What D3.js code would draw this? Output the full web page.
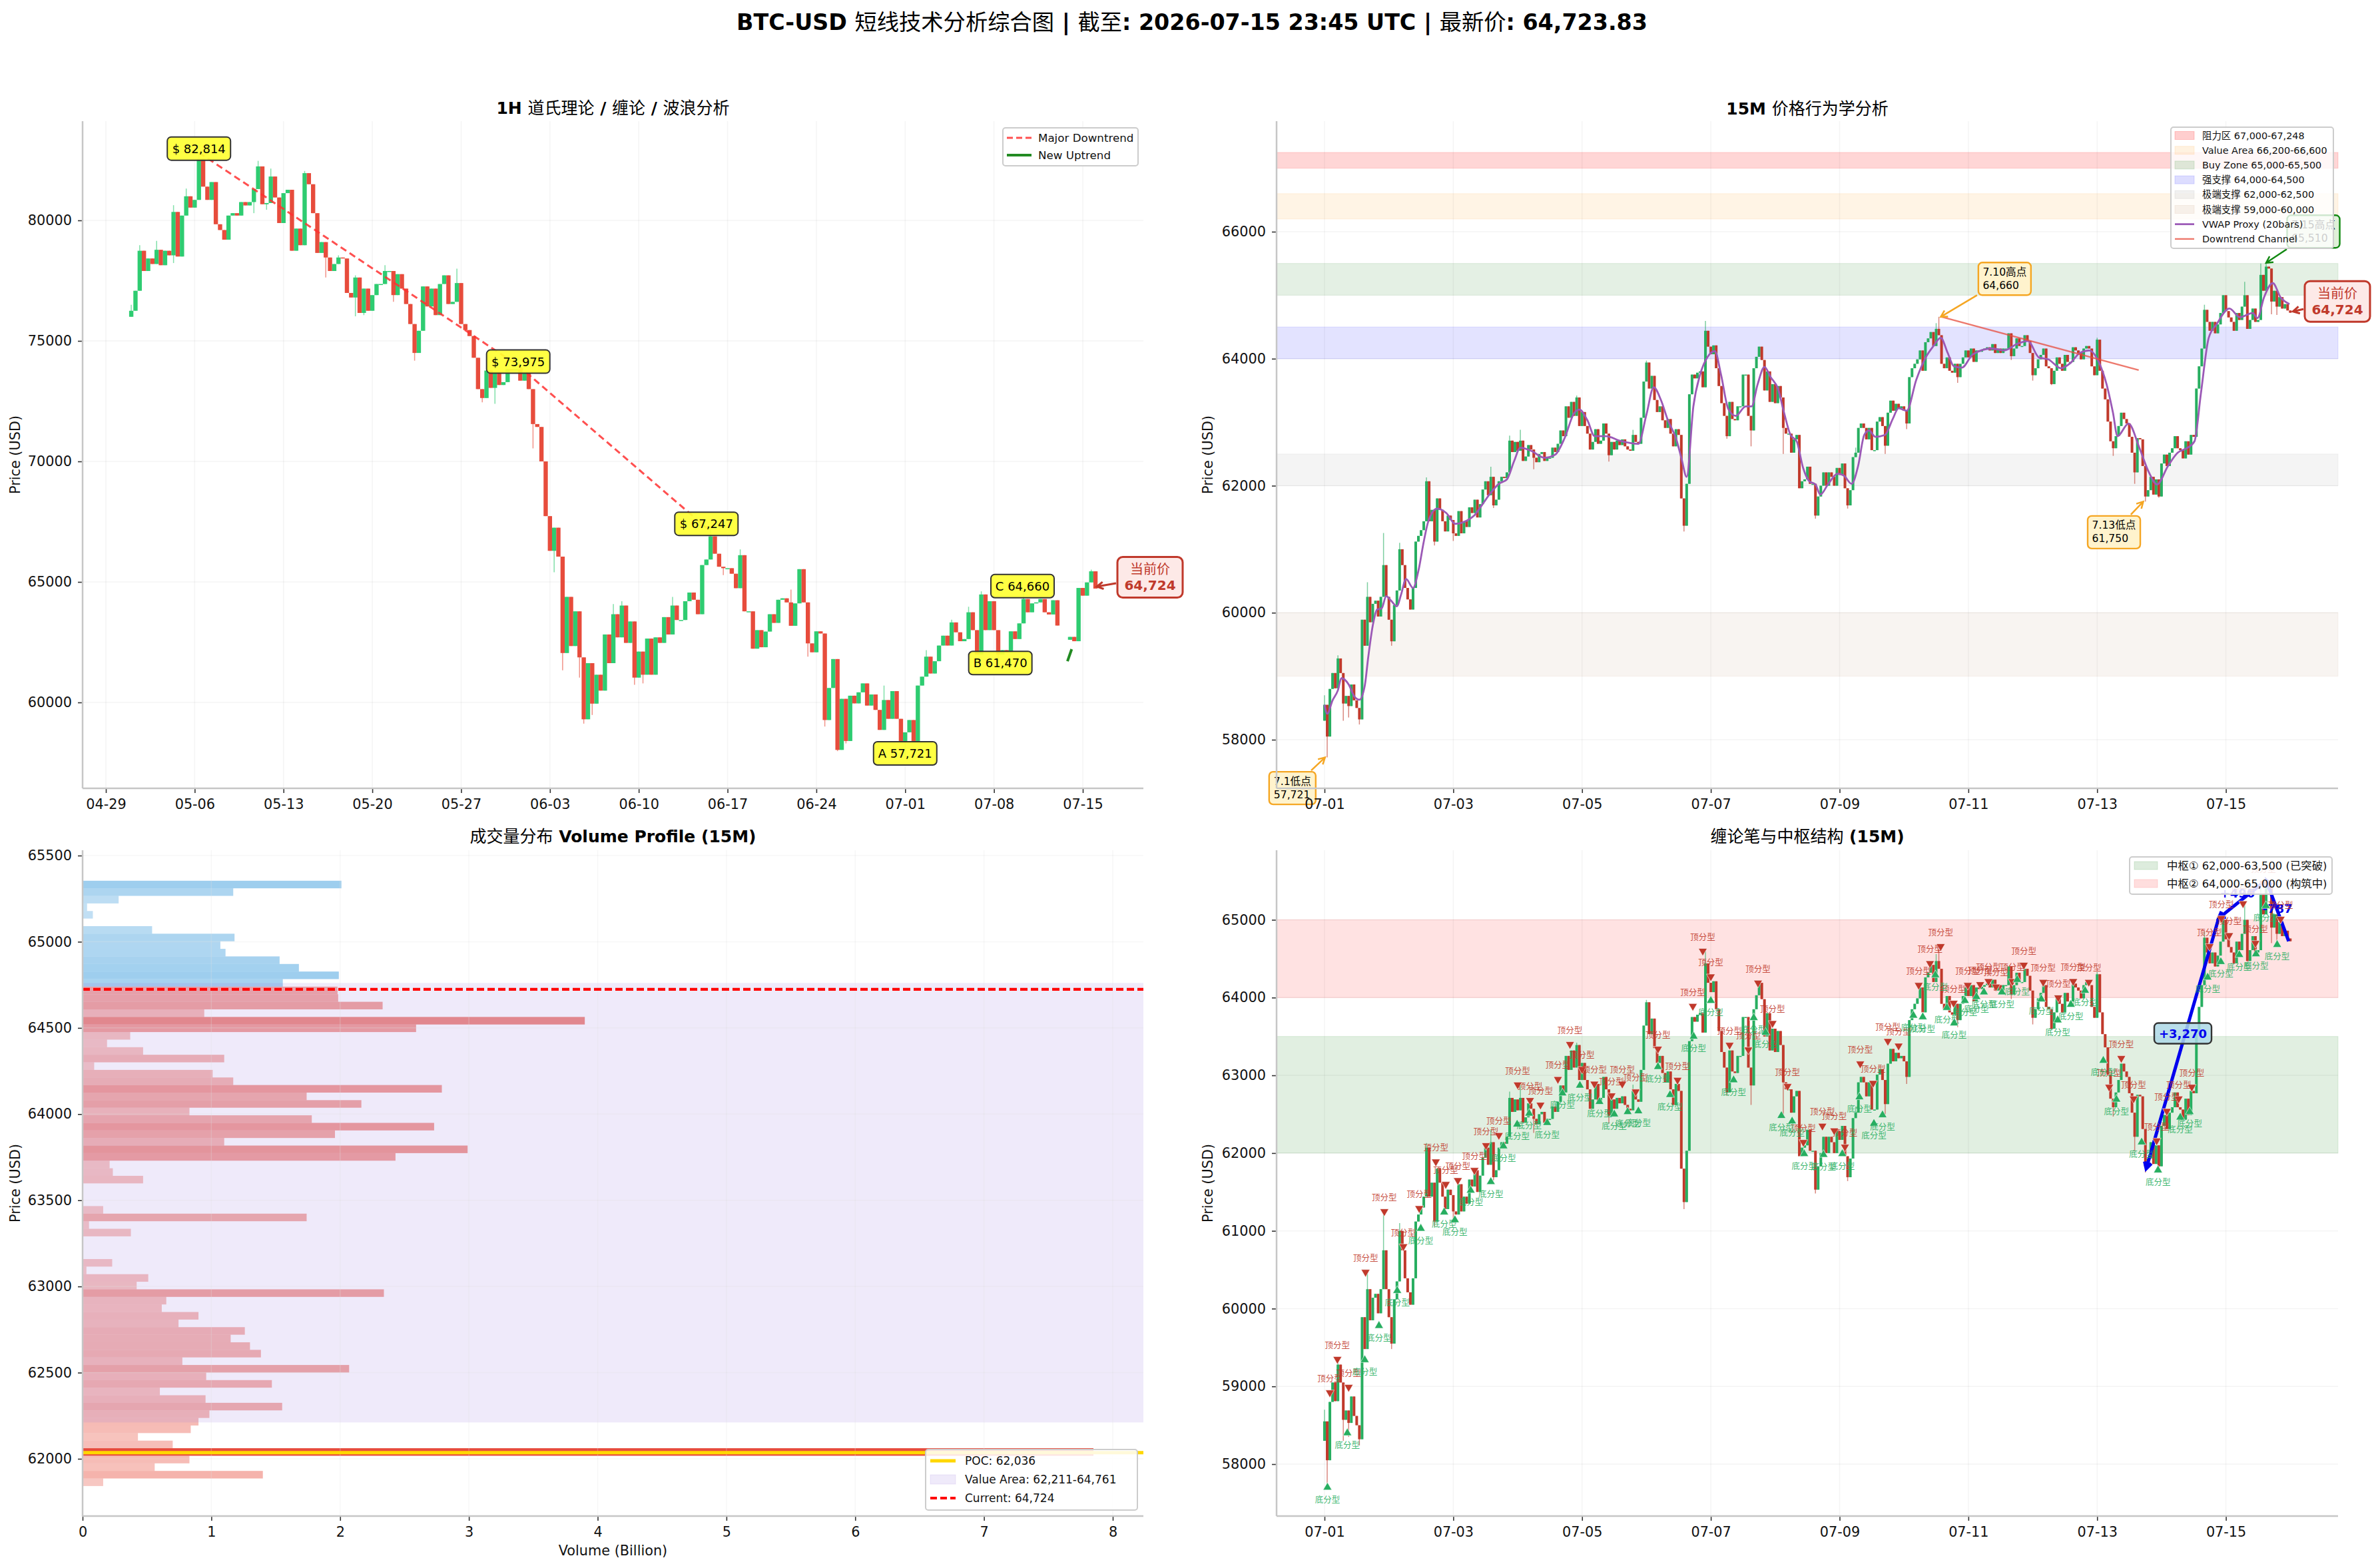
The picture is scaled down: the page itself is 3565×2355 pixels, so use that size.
<!DOCTYPE html>
<html>
<head>
<meta charset="utf-8">
<script src="https://cdn.jsdelivr.net/npm/d3@7/dist/d3.min.js"></script>
<style>
  html, body { margin: 0; padding: 0; background: #fff; }
  svg { display: block; font-family: "DejaVu Sans", "Noto Sans CJK SC", sans-serif; }
</style>
</head>
<body>
<svg id="chart" width="3565" height="2355" viewBox="0 0 3565 2355"></svg>
<script>
// ---------- 1H series: one close per 8 hours from 05-01 00:00 (null = no data) ----------
const closes1h = [
  76250,77080,78740,77900,78420,78190,78780,78140,78740,78550,
  80350,78500,80200,81000,80530,80850,82560,81400,80850,81590,
  79840,79600,79200,80200,80300,80200,80760,80620,80760,81300,
  82240,80670,80720,81820,80950,79890,81130,81270,78740,79660,
  78970,81960,81500,80300,78650,79100,78460,77900,78190,78460,
  78420,76990,76800,77630,76160,77170,76250,76900,77360,77360,
  77900,77900,76900,77770,77170,76530,75700,74500,75420,77260,
  76430,77170,76070,77360,77720,76530,76620,77400,75700,75450,
  75200,74300,73000,72630,73770,73050,73700,73170,73290,73830,
  73770,73830,73350,73650,73000,71550,71430,70000,67730,66290,
  67250,66050,62050,64380,62340,63780,61870,59300,61630,59950,
  61150,60490,62820,61630,63660,62700,64020,62470,63360,61030,
  62110,61150,62650,61150,62700,62470,63540,62820,64020,63420,
  63420,64200,64560,64260,63660,65700,65930,66890,66170,65630,
  65570,65570,65340,64740,66110,63780,63780,62230,63000,62290,
  62940,63660,63300,64260,64320,64150,63180,64110,65530,64150,
  62450,62080,62950,62860,59270,60600,61800,58030,60150,58400,
  60280,59960,60420,60790,59870,60330,59690,58860,60100,59320,
  60470,59320,58400,58760,59270,58400,60700,61070,61900,61200,
  61710,62360,62770,62360,63320,62910,62540,62630,63740,63000,
  61990,64480,63000,64200,63000,61990,62170,62080,62950,62630,
  63280,64290,63740,64110,64150,64290,63740,63650,64240,63190,
  null,null,62720,62540,64750,64430,64980,65440,64724
];
// visible wicks: [bar index, low, high]
const wicks1h = [
  [0,null,76500],[2,null,78970],[6,null,79150],[10,78230,80630],[13,null,81320],[16,null,82814],
  [29,80300,null],[30,null,82470],[32,80440,null],[33,null,82150],[41,null,82050],[46,77630,null],
  [49,null,78550],[53,76020,77720],[55,76070,null],[60,null,78140],[62,76620,null],[67,74180,null],
  [77,null,78000],[83,72450,null],[86,72390,null],[95,70540,null],[100,65400,null],[102,61330,null],
  [106,61030,null],[107,59120,null],[109,59480,null],[114,null,64080],[116,null,64200],[119,60730,null],
  [121,60790,null],[128,null,64380],[137,null,67247],[140,65280,null],[144,null,66350],[156,null,64680],
  [160,61900,null],[164,59000,null],[167,57980,null],[169,58300,null],[178,null,60700],[183,57721,null],
  [188,null,62170],[194,null,63430],[198,null,63970],[201,null,64610],[205,61470,null],[211,null,64660],
  [227,null,65510]
];
const closes1hFirstOpen = 76000;
const tickDays1h = ['04-29','05-06','05-13','05-20','05-27','06-03','06-10','06-17','06-24','07-01','07-08','07-15'];
const yTicks1h = [60000,65000,70000,75000,80000];
// swing points of the major downtrend with their labels
const swingDates = ['05-06T08','05-31T12','06-15T08'];
const swingValues = [82814,73975,67247];
const abcNames = ['A','B','C'];
const abcDates = ['07-01T00','07-08T12','07-10T06'];
const abcValues = [57721,61470,64660];
const uptrendTimes = ['07-13T19','07-14T03'];
const uptrendPrices = [61710,62210];
const lastPrice = 64724;

// ---------- 15M series: one close per hour from 07-01 00:00 ----------
const closes15m = [
  58550,58050,58800,59050,58810,59280,59050,58570,58690,58530,
  58870,58620,58500,58320,59890,59480,60250,59850,60140,60190,
  59940,60250,60750,60250,59890,59550,60120,60350,61000,60750,
  60390,60210,60050,60390,61120,61210,61300,61440,62070,61440,
  61620,61120,61800,61620,61440,61280,61530,61460,61250,61210,
  61600,61250,61440,61350,61660,61570,61780,61500,61710,61940,
  62070,61850,62140,61690,61780,62070,62140,62120,62210,62710,
  62530,62690,62550,62710,62390,62460,62640,62570,62440,62370,
  62500,62530,62390,62440,62440,62600,62530,62660,62870,62780,
  63250,63070,63320,63100,63390,62940,63160,62940,62820,62570,
  62690,62890,62660,62710,62980,62820,62480,62690,62570,62710,
  62640,62730,62620,62570,62550,62800,62690,62660,63070,63640,
  63940,63530,63730,63350,63160,63250,63030,62910,63050,62820,
  62620,62890,62800,61800,61370,62030,63440,63750,63690,63780,
  63800,63550,64440,64190,64070,64210,63850,63570,63300,63100,
  62780,63320,63050,63030,63250,63250,63750,63750,63100,62870,
  63850,64030,64190,63980,63500,63800,63320,63600,63300,63570,
  63390,62910,62820,62820,62520,62730,62800,61960,62070,62100,
  62300,62030,62030,61530,61830,62000,62210,62000,62210,62140,
  62000,62280,62170,62350,61960,61690,61930,62450,62520,62910,
  62980,62910,62730,62910,62560,62560,63010,63080,62940,62630,
  63150,63340,63180,63290,63220,63250,63180,62980,63710,63850,
  63920,63990,64130,63810,64260,64320,64420,64200,64470,64370,
  63920,63850,64020,63810,63780,63920,63710,63920,64020,64130,
  64020,64160,63950,64130,64110,64140,64160,64180,64130,64230,
  64090,64160,64090,64160,64160,64400,64040,64160,64320,64200,
  64200,64370,64280,64090,63740,63850,63990,64060,64160,63880,
  63850,63600,63810,64020,63920,63810,64060,63950,63950,64180,
  64130,64090,63990,64160,64200,64160,63880,63740,64300,63810,
  63530,63360,63010,62700,62590,62780,62940,63150,63050,62980,
  62770,62520,62210,62750,62730,62310,61830,61930,62140,61860,
  62100,61830,62350,62490,62310,62520,62590,62780,62590,62560,
  62430,62700,62490,62800,62770,63530,63880,64160,64770,64580,
  64440,64580,64400,64540,64720,65000,64750,64650,64580,64440,
  64720,64610,64820,65000,64470,64610,64790,64580,64610,65320,
  65070,65450,65420,64900,65070,64820,64970,64790,64860,64760,
  64724
];
const closes15mFirstOpen = 58300;
const wicks15m = [
  [0,null,58700],[1,57721,null],[5,null,59330],[7,58300,null],[9,58350,null],[13,58240,null],[16,null,60480],
  [22,null,61255],[25,59480,null],[28,null,61100],[38,null,62130],[41,61060,null],[48,61130,null],
  [62,null,62300],[63,61650,null],[69,null,62790],[73,null,62880],[78,62260,null],[94,null,63420],
  [106,62380,null],[115,null,62880],[120,null,63970],[134,61280,null],[142,null,64595],[150,62740,null],
  [159,62620,null],[171,62500,null],[183,61480,null],[195,61640,null],[198,null,62600],[209,62500,null],
  [217,62890,null],[228,null,64560],[229,null,64660],[236,63620,null],[256,63980,null],[264,63655,null],
  [271,63585,null],[288,null,64330],[294,62470,null],[302,62030,null],[306,61750,null],[311,61810,null],
  [328,null,64850],[343,null,65210],[349,null,65500],[351,null,65510],[353,64700,null],[355,64690,null]
];
const tickDays15m = ['07-01','07-03','07-05','07-07','07-09','07-11','07-13','07-15'];
const yTicks15mPrice = [58000,60000,62000,64000,66000];
const yTicks15mPen = [58000,59000,60000,61000,62000,63000,64000,65000];

// price zones of the 15M price-action panel
const zoneNames = ['阻力区 67,000-67,248','Value Area 66,200-66,600','Buy Zone 65,000-65,500','强支撑 64,000-64,500','极端支撑 62,000-62,500','极端支撑 59,000-60,000'];
const zoneLows = [67000,66200,65000,64000,62000,59000];
const zoneHighs = [67248,66600,65500,64500,62500,60000];
const zoneColors = ['#ff0000','#ff9800','#2e8b2e','#0000ff','#808080','#8b4513'];
const zoneOpacity = [0.16,0.1,0.13,0.11,0.09,0.06];

// rolling VWAP proxy as read: hours since 07-01 00:00, and price
const vwapHours = [0,1,3,5,6.3,9,11,13,15,16.3,18,19.6,21.3,23,24.6,27,28.5,30.4,33,35,37,38.7,42,45.4,48.7,53,55.8,58.6,62,65,68,70.7,73,77,82,86,89.5,93,95,98,100.7,105,110,117,120,122.7,125.4,128,131,133,135,137.5,140,142.8,145.5,147.8,150.5,153.3,157,159.2,161.4,164,166.3,169,171.3,173.7,176,178.4,180.7,183,184.8,187.8,191.3,193.6,196.5,198.9,201.2,203,205.3,208.9,211.8,214,217,220.6,224.1,227,229.7,232.3,234.6,237.6,241.7,248.7,253.4,258,262.2,266.3,269.8,274.5,278,281.5,285,288.6,291.5,293.9,295.6,299.7,303.8,307.3,310.3,314.4,318,321.4,324.3,326.7,329.6,332.5,337.3,341.2,346,347.8,350.2,353.5,356.4,359.7];
const vwapPrices = [58550,58410,58620,58780,58970,58870,58690,58630,58850,59300,59800,60050,60070,60260,60200,60100,60280,60530,60390,60660,61120,61440,61640,61570,61400,61450,61530,61690,61890,62030,62100,62390,62600,62550,62440,62490,62750,63140,63200,63030,62780,62780,62710,62660,63120,63550,63350,63030,62750,62440,62140,63250,63750,64030,64120,63750,63210,63100,63250,63250,63590,63870,63710,63530,63150,62800,62700,62280,62070,62020,61860,62030,62190,62160,62030,62310,62800,62870,62770,62800,63050,63220,63180,63670,64020,64200,64330,64090,63880,63860,64070,64160,64130,64230,64280,64020,63990,63850,63930,64090,64130,63950,63600,63150,62780,62980,62590,62210,62020,62310,62520,62590,62700,63460,64330,64540,64790,64655,64720,64640,64965,65190,64965,64860];

// downtrend channel: hours since 07-01 00:00, and price
const channelHours = [230,303.5];
const channelPrices = [64660,63820];

// fractal tops and bottoms: hours since 07-01 00:00, and marker price
const topHours = [2,4.8,9,15.3,22.3,29.4,35.3,41.5,45.2,49.7,55.9,60.2,65,72,76.6,80.5,87,91.5,96,100.6,107,111,116,124.3,131.6,137.3,141,144,151,158,161.6,167,172.6,178.5,185.6,190,194,199.7,204.5,210,214,221.5,225.7,229.7,234.5,239.8,244.4,247.5,250.3,256.4,260.7,267.9,273.5,279.1,284.9,292.5,297,301.6,310.2,314,318.4,323.3,329.9,334.3,337.2,342.4,347,350,356.4];
const topPrices = [58920,59350,58990,60470,61250,60800,61290,61890,61600,61650,61780,62100,62230,62880,62680,62620,62950,63400,63080,62890,62740,62890,62790,63340,62940,63890,64600,64270,63390,63330,64190,63670,62860,62140,62350,62290,62080,63150,62900,63440,63380,64160,64440,64660,63930,64160,64170,64210,64140,64210,64420,64200,64000,64210,64200,62850,63220,62700,62160,62540,62700,62850,64660,65020,64800,65210,64700,65470,65010];
const bottomHours = [1.1,8.5,15,20.3,27.1,35.9,44.6,48.6,54.5,62,66.7,71.8,76.3,83,88.7,95.2,102.5,108,113,117,124.3,128.8,137.6,144,152.5,160,164.4,170.3,174.3,178.8,186,193,199.4,204.8,208,219.5,223,227.7,232,234.7,238.7,243,245.8,252.5,258.2,267.2,273.3,278.2,283.5,290.3,295.2,304.6,310.7,319,322.5,329.2,334.1,341,347.2,350.9,355.1];
const bottomPrices = [57700,58400,59340,59780,60230,61030,61240,61140,61520,61630,62090,62370,62510,62390,62770,62870,62660,62500,62530,62540,63110,62750,63500,63960,62940,63740,63550,62480,62410,61990,61980,61990,62720,62380,62490,63770,63750,64290,63870,63670,63960,64010,64070,64070,64230,63980,63710,63910,64090,63190,62690,62140,61780,62460,62530,64260,64460,64550,64560,65180,64680];

// pen strokes between confirmed fractals
const penHours = [306.3,333.3,351,359.4];
const penPrices = [61800,65020,65510,64724];
const penLabels = ['+3,270','+490','-787'];

// pivot zones of the pen panel
const pivotNames = ['中枢① 62,000-63,500 (已突破)','中枢② 64,000-65,000 (构筑中)'];
const pivotLows = [62000,64000];
const pivotHighs = [63500,65000];
const pivotColors = ['#2e8b2e','#ff3030'];

// ---------- Volume profile: bins from the top edge downward, in billions ----------
const profileTop = 65354;
const profileBinSize = 43.9;
const profileVolumes = [
  2.01,1.17,0.28,0.035,0.08,0,0.54,1.18,1.07,1.11,
  1.53,1.68,1.99,1.555,1.98,1.985,2.33,0.945,3.90,2.59,
  0.37,0.19,0.47,1.10,0.09,1.01,1.17,2.79,1.74,2.165,
  0.83,1.78,2.73,1.96,1.10,2.99,2.43,0.21,0.235,0.47,
  0,0,0,0.16,1.74,0.05,0.375,0,0,0,
  0.23,0.03,0.51,0.42,2.34,0.65,0.615,0.90,0.745,1.26,
  1.15,1.30,1.385,0.775,2.07,0.96,1.47,0.60,0.955,1.55,
  0.985,0.90,0.84,0.43,0.70,7.85,0.83,0.56,1.40,0.16
];
const pocPrice = 62036;
const valueAreaLow = 62211;
const valueAreaHigh = 64761;
const yTicksProfile = [62000,62500,63000,63500,64000,64500,65000,65500];
const xTicksProfile = [0,1,2,3,4,5,6,7,8];

// ---------- layout and palette ----------
const FONT = '"DejaVu Sans", "Noto Sans CJK SC", sans-serif';
const leftCol = { l: 124, r: 1717 };
const rightCol = { l: 1917, r: 3511 };
const upperRow = { t: 182, b: 1184 };
const lowerRow = { t: 1277, b: 2277 };
const TICK_SIZE = 20.8;
const SPINE = '#c6c6c6';
const UP_1H = '#2ecc71', DOWN_1H = '#e74c3c';
const UP_15M = '#27ae60', DOWN_15M = '#c0392b';
const fmt = d3.format(',');

const dateOf = s => new Date(`2026-${s.length === 5 ? s + 'T00' : s}:00:00Z`);
const start1h = dateOf('05-01');
const start15m = dateOf('07-01');
const at1h = i => new Date(+start1h + i * 8 * 3600e3);
const at15m = h => new Date(+start15m + h * 3600e3);

const svg = d3.select('#chart');
svg.append('rect').attr('width', 3565).attr('height', 2355).attr('fill', '#fff');

// Latin runs keep the requested weight; the CJK runs stay regular.
function richText(sel, str, weight) {
  str.split(/([\u2E80-\u9FFF\u2460-\u2473]+)/).filter(Boolean).forEach(part => {
    const cjk = /[\u2E80-\u9FFF\u2460-\u2473]/.test(part);
    sel.append('tspan').attr('font-weight', cjk ? 400 : weight).text(part);
  });
  return sel;
}

function title(cx, cy, str, size) {
  richText(svg.append('text').attr('x', cx).attr('y', cy)
    .attr('text-anchor', 'middle').attr('dominant-baseline', 'central')
    .attr('font-size', size).attr('fill', '#000'), str, 700);
}

function axes(g, x, y, col, row, xAxis, yTickValues, yLabelX) {
  const grid = g.append('g').attr('class', 'grid')
    .attr('stroke', '#000').attr('stroke-opacity', 0.045).attr('stroke-width', 1.5);
  grid.selectAll('.gx').data(xAxis.tickValues()).join('line').attr('class', 'gx')
    .attr('x1', d => x(d)).attr('x2', d => x(d)).attr('y1', row.t).attr('y2', row.b);
  grid.selectAll('.gy').data(yTickValues).join('line').attr('class', 'gy')
    .attr('x1', col.l).attr('x2', col.r).attr('y1', d => y(d)).attr('y2', d => y(d));
  const frame = svg.append('g').attr('class', 'frame');
  const xg = frame.append('g').attr('transform', `translate(0,${row.b})`).call(xAxis);
  const yg = frame.append('g').attr('transform', `translate(${col.l},0)`)
    .call(d3.axisLeft(y).tickValues(yTickValues).tickFormat(d3.format('d')).tickSize(7).tickPadding(9));
  [xg, yg].forEach(a => {
    a.attr('font-family', FONT);
    a.selectAll('text').attr('font-size', TICK_SIZE).attr('fill', '#111');
    a.selectAll('.tick line').attr('stroke', '#333').attr('stroke-width', 1.6);
    a.select('.domain').remove();
  });
  frame.append('line').attr('x1', col.l).attr('x2', col.l).attr('y1', row.t).attr('y2', row.b)
    .attr('stroke', SPINE).attr('stroke-width', 2.5);
  frame.append('line').attr('x1', col.l).attr('x2', col.r).attr('y1', row.b).attr('y2', row.b)
    .attr('stroke', SPINE).attr('stroke-width', 2.5);
  svg.append('text').attr('transform', `translate(${yLabelX},${(row.t + row.b) / 2}) rotate(-90)`)
    .attr('text-anchor', 'middle').attr('dominant-baseline', 'central')
    .attr('font-size', TICK_SIZE).attr('fill', '#111').text('Price (USD)');
}

function candles(g, x, y, at, closes, firstOpen, wicks, width, up, down) {
  const wickOf = new Map(wicks.map(w => [w[0], w]));
  const bars = closes.map((close, i) => {
    if (close === null) return null;
    const prev = i > 0 ? closes[i - 1] : firstOpen;
    const open = prev === null ? close - 120 : prev;
    const w = wickOf.get(i) || [];
    const low = Math.min(open, close, w[1] ?? Infinity);
    const high = Math.max(open, close, w[2] ?? -Infinity);
    return { t: at(i), open, close, low, high };
  }).filter(Boolean);
  const colour = d => d.close >= d.open ? up : down;
  g.append('g').selectAll('line').data(bars).join('line')
    .attr('x1', d => x(d.t)).attr('x2', d => x(d.t))
    .attr('y1', d => y(d.high)).attr('y2', d => y(d.low))
    .attr('stroke', colour).attr('stroke-opacity', 0.6).attr('stroke-width', 1.5);
  g.append('g').selectAll('rect').data(bars).join('rect')
    .attr('x', d => x(d.t) - width / 2).attr('width', width)
    .attr('y', d => y(Math.max(d.open, d.close)))
    .attr('height', d => Math.max(1.5, Math.abs(y(d.open) - y(d.close))))
    .attr('fill', colour);
}

function arrow(g, x1, y1, x2, y2, color, width) {
  const a = Math.atan2(y2 - y1, x2 - x1), h = 11, s = 0.5;
  g.append('path')
    .attr('d', `M${x1},${y1}L${x2},${y2}M${x2 - h * Math.cos(a - s)},${y2 - h * Math.sin(a - s)}L${x2},${y2}L${x2 - h * Math.cos(a + s)},${y2 - h * Math.sin(a + s)}`)
    .attr('fill', 'none').attr('stroke', color).attr('stroke-width', width);
}

// A rounded label box centred on (cx, cy), optionally with an arrow to a target point.
function callout(g, o) {
  const box = g.append('g');
  const rect = box.append('rect');
  const lh = o.lineHeight || o.size * 1.3;
  const n = o.lines.length;
  const text = box.append('text').attr('font-size', o.size).attr('fill', o.color || '#000');
  const spans = o.lines.map((l, i) => text.append('tspan')
    .attr('x', o.cx).attr('y', o.cy + (i - (n - 1) / 2) * lh).attr('dominant-baseline', 'central')
    .attr('font-weight', (o.weights && o.weights[i]) || 400)
    .attr('fill', (o.lineColors && o.lineColors[i]) || null).text(l));
  const widest = d3.max(spans, s => s.node().getComputedTextLength());
  const left = o.cx - widest / 2;
  if (o.align === 'center') text.attr('text-anchor', 'middle');
  else spans.forEach(s => s.attr('x', left));
  const pad = o.pad ?? 6;
  const w = o.width || widest + pad * 2;
  const h = o.height || n * lh + pad * 2;
  rect.attr('x', o.cx - w / 2).attr('y', o.cy - h / 2).attr('width', w).attr('height', h)
    .attr('rx', o.radius ?? 6).attr('fill', o.fill).attr('fill-opacity', o.fillOpacity ?? 1)
    .attr('stroke', o.stroke).attr('stroke-width', o.strokeWidth ?? 2);
  if (o.target) {
    const dx = o.target[0] - o.cx, dy = o.target[1] - o.cy;
    const k = Math.min((w / 2 + 2) / Math.abs(dx || 1), (h / 2 + 2) / Math.abs(dy || 1));
    arrow(g, o.cx + dx * k, o.cy + dy * k, o.target[0], o.target[1], o.arrowColor || o.stroke, o.arrowWidth || 2.5);
  }
}

function legend(g, o) {
  const lg = g.append('g');
  lg.append('rect').attr('x', o.x).attr('y', o.y).attr('width', o.w).attr('height', o.h).attr('rx', 4)
    .attr('fill', '#fff').attr('fill-opacity', o.alpha ?? 0.8).attr('stroke', '#ccc').attr('stroke-width', 2);
  o.items.forEach((it, i) => {
    const cy = o.rowY + i * o.rowH;
    if (it.kind === 'patch') {
      lg.append('rect').attr('x', o.swatchX).attr('y', cy - o.patchH / 2).attr('width', o.swatchW).attr('height', o.patchH)
        .attr('fill', it.color).attr('fill-opacity', it.opacity).attr('stroke', it.color).attr('stroke-opacity', it.opacity);
    } else {
      lg.append('line').attr('x1', o.swatchX).attr('x2', o.swatchX + o.swatchW).attr('y1', cy).attr('y2', cy)
        .attr('stroke', it.color).attr('stroke-width', it.width).attr('stroke-opacity', it.opacity ?? 1)
        .attr('stroke-dasharray', it.dash || null);
    }
    lg.append('text').attr('x', o.textX).attr('y', cy).attr('dominant-baseline', 'central')
      .attr('font-size', o.size).attr('fill', '#111').text(it.label);
  });
}

function xAxisFor(x) {
  return d3.axisBottom(x).tickFormat(d3.utcFormat('%m-%d')).tickSize(7).tickPadding(9);
}

function currentPriceBox(g, cx, cy, target) {
  callout(g, {
    cx, cy, lines: ['当前价', fmt(lastPrice)], size: 20, lineHeight: 24, align: 'center',
    weights: [400, 700], color: '#c0392b', fill: '#fde9e7', stroke: '#c0392b', strokeWidth: 3,
    radius: 8, width: 98, height: 61, target, arrowWidth: 3
  });
}

// Main title and panel titles
title(1790, 33, 'BTC-USD 短线技术分析综合图 | 截至: 2026-07-15 23:45 UTC | 最新价: 64,723.83', 33.3);
title((leftCol.l + leftCol.r) / 2, 162, '1H 道氏理论 / 缠论 / 波浪分析', 25);
title((rightCol.l + rightCol.r) / 2, 163, '15M 价格行为学分析', 25);
title((leftCol.l + leftCol.r) / 2, 1256, '成交量分布 Volume Profile (15M)', 25);
title((rightCol.l + rightCol.r) / 2, 1256, '缠论笔与中枢结构 (15M)', 25);

// ---------- 1H Dow / wave panel ----------
{
  const x = d3.scaleUtc().domain([dateOf('04-29'), dateOf('07-15')]).range([159, 1626]);
  const y = d3.scaleLinear().domain([60000, 80000]).range([1055, 331]);
  const g = svg.append('g');
  axes(g, x, y, leftCol, upperRow, xAxisFor(x).tickValues(tickDays1h.map(dateOf)), yTicks1h, 23);
  candles(g, x, y, at1h, closes1h, closes1hFirstOpen, wicks1h, 6.4, UP_1H, DOWN_1H);

  const line = d3.line().x(d => x(d[0])).y(d => y(d[1]));
  g.append('path').datum(swingDates.map((d, i) => [dateOf(d), swingValues[i]]))
    .attr('d', line).attr('fill', 'none').attr('stroke', '#ff3030').attr('stroke-opacity', 0.85)
    .attr('stroke-width', 3).attr('stroke-dasharray', '10,6');
  g.append('path').datum(uptrendTimes.map((d, i) => [dateOf(d), uptrendPrices[i]]))
    .attr('d', line).attr('fill', 'none').attr('stroke', '#228b22').attr('stroke-width', 4);

  const yellowLabel = (date, value, text) => callout(g, {
    cx: x(dateOf(date)), cy: y(value) - 6, lines: [text], size: 18, align: 'center',
    fill: '#ffff33', fillOpacity: 0.92, stroke: '#333', strokeWidth: 2, width: 95, height: 35
  });
  swingDates.forEach((d, i) => yellowLabel(d, swingValues[i], `$ ${fmt(swingValues[i])}`));
  abcDates.forEach((d, i) => yellowLabel(d, abcValues[i], `${abcNames[i]} ${fmt(abcValues[i])}`));

  const tip = [x(at1h(228)) + 2, y(lastPrice) - 3];
  currentPriceBox(g, 1727, y(lastPrice) - 17, tip);

  legend(g, {
    x: 1506, y: 192, w: 203, h: 57, rowY: 207, rowH: 26, swatchX: 1512, swatchW: 37, textX: 1559, size: 16.7,
    items: [
      { kind: 'line', color: '#ff3030', width: 3, dash: '9,5', opacity: 0.85, label: 'Major Downtrend' },
      { kind: 'line', color: '#228b22', width: 4, label: 'New Uptrend' }
    ]
  });
}

// ---------- 15M price-action panel ----------
{
  const x = d3.scaleUtc().domain([dateOf('07-01'), dateOf('07-15')]).range([1989, 3342.6]);
  const y = d3.scaleLinear().domain([58000, 66000]).range([1111, 348]);
  const g = svg.append('g');
  zoneNames.forEach((_, i) => {
    g.append('rect').attr('x', rightCol.l).attr('width', rightCol.r - rightCol.l)
      .attr('y', y(zoneHighs[i])).attr('height', y(zoneLows[i]) - y(zoneHighs[i]))
      .attr('fill', zoneColors[i]).attr('fill-opacity', zoneOpacity[i])
      .attr('stroke', zoneColors[i]).attr('stroke-opacity', zoneOpacity[i]);
  });
  axes(g, x, y, rightCol, upperRow, xAxisFor(x).tickValues(tickDays15m.map(dateOf)), yTicks15mPrice, 1814);
  candles(g, x, y, at15m, closes15m, closes15mFirstOpen, wicks15m, 4, UP_15M, DOWN_15M);

  g.append('path').datum(vwapHours.map((h, i) => [at15m(h), vwapPrices[i]]))
    .attr('d', d3.line().x(d => x(d[0])).y(d => y(d[1])).curve(d3.curveMonotoneX))
    .attr('fill', 'none').attr('stroke', '#9b59b6').attr('stroke-width', 2.8);
  g.append('path').datum(channelHours.map((h, i) => [at15m(h), channelPrices[i]]))
    .attr('d', d3.line().x(d => x(d[0])).y(d => y(d[1])))
    .attr('fill', 'none').attr('stroke', '#e74c3c').attr('stroke-opacity', 0.75).attr('stroke-width', 2.4);

  const note = (hour, value, text, dx, dy, stroke, fill, width) => {
    const tx = x(at15m(hour)), ty = y(value);
    callout(g, {
      cx: tx + dx, cy: ty + dy, lines: [text, fmt(value)], size: 15.6, lineHeight: 20,
      fill, stroke, strokeWidth: 2.4, width, height: 49, target: [tx, ty]
    });
  };
  note(0.2, 57721, '7.1低点', -49, 46, '#f5a623', '#fff3cd', 70);
  note(229.7, 64660, '7.10高点', 96, -57, '#f5a623', '#fff3cd', 79);
  note(305.2, 61750, '7.13低点', -44, 46, '#f5a623', '#fff3cd', 79);
  note(351, 65510, '7.15高点', 71, -47, '#118811', '#dff0d8', 79);

  currentPriceBox(g, 3510, y(lastPrice) - 17, [x(at15m(360)) + 4, y(lastPrice) - 2]);

  const items = zoneNames.map((label, i) => ({ kind: 'patch', color: zoneColors[i], opacity: zoneOpacity[i] * 1.2, label }));
  items.push({ kind: 'line', color: '#9b59b6', width: 2.8, label: 'VWAP Proxy (20bars)' });
  items.push({ kind: 'line', color: '#e74c3c', width: 2.4, opacity: 0.75, label: 'Downtrend Channel' });
  legend(g, {
    x: 3260, y: 191, w: 244, h: 182, rowY: 203.5, rowH: 22.2, swatchX: 3266, swatchW: 29, patchH: 12,
    textX: 3307, size: 14.4, items
  });
}

// ---------- Volume profile panel ----------
{
  const x = d3.scaleLinear().domain([0, 8]).range([leftCol.l, 1671]);
  const y = d3.scaleLinear().domain([62000, 65500]).range([2191, 1285]);
  const g = svg.append('g');
  const xAxis = d3.axisBottom(x).tickValues(xTicksProfile).tickFormat(d3.format('d')).tickSize(7).tickPadding(9);
  axes(g, x, y, leftCol, lowerRow, xAxis, yTicksProfile, 23);

  const maxVol = d3.max(profileVolumes);
  const bins = profileVolumes.map((v, i) => {
    const hi = profileTop - i * profileBinSize, lo = hi - profileBinSize;
    return { v, hi, lo, mid: (hi + lo) / 2 };
  });
  g.append('g').selectAll('rect').data(bins.filter(b => b.v > 0)).join('rect')
    .attr('x', leftCol.l).attr('width', d => x(d.v) - leftCol.l)
    .attr('y', d => y(d.hi)).attr('height', d => y(d.lo) - y(d.hi))
    .attr('fill', d => d.mid > lastPrice ? '#3498db' : '#e74c3c')
    .attr('fill-opacity', d => 0.3 + 0.7 * d.v / maxVol);

  // the value-area tint and the grid lie over the bars
  g.append('rect').attr('x', leftCol.l).attr('width', leftCol.r - leftCol.l)
    .attr('y', y(valueAreaHigh)).attr('height', y(valueAreaLow) - y(valueAreaHigh))
    .attr('fill', '#9370db').attr('fill-opacity', 0.15);
  g.select('.grid').raise().attr('stroke', '#fff').attr('stroke-opacity', 0.25);
  g.append('g').attr('stroke', '#000').attr('stroke-opacity', 0.03).attr('stroke-width', 1.5)
    .selectAll('line').data(yTicksProfile).join('line')
    .attr('x1', leftCol.l).attr('x2', leftCol.r).attr('y1', d => y(d)).attr('y2', d => y(d));
  g.append('g').attr('stroke', '#000').attr('stroke-opacity', 0.03).attr('stroke-width', 1.5)
    .selectAll('line').data(xTicksProfile).join('line')
    .attr('x1', d => x(d)).attr('x2', d => x(d)).attr('y1', lowerRow.t).attr('y2', lowerRow.b);

  g.append('line').attr('x1', leftCol.l).attr('x2', leftCol.r).attr('y1', y(pocPrice)).attr('y2', y(pocPrice))
    .attr('stroke', '#ffd700').attr('stroke-width', 5);
  g.append('line').attr('x1', leftCol.l).attr('x2', leftCol.r).attr('y1', y(lastPrice)).attr('y2', y(lastPrice))
    .attr('stroke', '#ff0000').attr('stroke-width', 4.2).attr('stroke-dasharray', '11,5');

  svg.append('text').attr('x', (leftCol.l + leftCol.r) / 2).attr('y', 2329)
    .attr('text-anchor', 'middle').attr('dominant-baseline', 'central')
    .attr('font-size', TICK_SIZE).attr('fill', '#111').text('Volume (Billion)');

  legend(g, {
    x: 1390, y: 2177, w: 318, h: 91, rowY: 2194, rowH: 28, swatchX: 1397, swatchW: 38, patchH: 14,
    textX: 1449, size: 17, alpha: 0.85,
    items: [
      { kind: 'line', color: '#ffd700', width: 5, label: `POC: ${fmt(pocPrice)}` },
      { kind: 'patch', color: '#9370db', opacity: 0.15, label: `Value Area: ${fmt(valueAreaLow)}-${fmt(valueAreaHigh)}` },
      { kind: 'line', color: '#ff0000', width: 4.2, dash: '10,5', label: `Current: ${fmt(lastPrice)}` }
    ]
  });
}

// ---------- 15M pen / pivot panel ----------
{
  const x = d3.scaleUtc().domain([dateOf('07-01'), dateOf('07-15')]).range([1989, 3342.6]);
  const y = d3.scaleLinear().domain([58000, 65000]).range([2199, 1381.5]);
  const g = svg.append('g');
  pivotNames.forEach((_, i) => {
    g.append('rect').attr('x', rightCol.l).attr('width', rightCol.r - rightCol.l)
      .attr('y', y(pivotHighs[i])).attr('height', y(pivotLows[i]) - y(pivotHighs[i]))
      .attr('fill', pivotColors[i]).attr('fill-opacity', 0.14)
      .attr('stroke', pivotColors[i]).attr('stroke-opacity', 0.14);
  });
  axes(g, x, y, rightCol, lowerRow, xAxisFor(x).tickValues(tickDays15m.map(dateOf)), yTicks15mPen, 1814);
  candles(g, x, y, at15m, closes15m, closes15mFirstOpen, wicks15m, 4, UP_15M, DOWN_15M);

  // pens are drawn with the arrow head on the older end
  penPrices.slice(1).forEach((p, i) => {
    arrow(g, x(at15m(penHours[i + 1])), y(p), x(at15m(penHours[i])), y(penPrices[i]), '#0000ee', 5);
  });
  g.append('text').attr('x', x(at15m(penHours[1] + 7))).attr('y', y(penPrices[2]) + 20)
    .attr('text-anchor', 'middle').attr('dominant-baseline', 'central')
    .attr('font-size', 18).attr('font-weight', 700).attr('fill', '#0000ee').text(penLabels[1]);
  g.append('text').attr('x', x(at15m(penHours[2] + 4.2))).attr('y', y(penPrices[3]) - 49)
    .attr('text-anchor', 'middle').attr('dominant-baseline', 'central')
    .attr('font-size', 18).attr('font-weight', 700).attr('fill', '#0000ee').text(penLabels[2]);

  const triangle = d3.symbol().type(d3.symbolTriangle).size(75)();
  const labelled = (hours, prices, colour, rotate, offset, text) => {
    const layer = g.append('g');
    const pts = hours.map((h, i) => ({ px: x(at15m(h)), py: y(prices[i]) }));
    layer.selectAll('path').data(pts).join('path')
      .attr('d', triangle).attr('fill', colour).attr('stroke', '#fff').attr('stroke-width', 0.6)
      .attr('transform', d => `translate(${d.px},${d.py}) rotate(${rotate})`);
    layer.selectAll('text').data(pts).join('text')
      .attr('x', d => d.px).attr('y', d => d.py + offset)
      .attr('text-anchor', 'middle').attr('dominant-baseline', 'central')
      .attr('font-size', 12.5).attr('fill', colour).attr('fill-opacity', 0.9).text(text);
  };
  labelled(topHours, topPrices, '#c0392b', 180, -21, '顶分型');
  labelled(bottomHours, bottomPrices, '#27ae60', 0, 18, '底分型');

  callout(g, {
    cx: 3278, cy: 1552, lines: [penLabels[0]], size: 18, align: 'center', weights: [700], color: '#0000ee',
    fill: '#add8e6', fillOpacity: 0.85, stroke: '#333', strokeWidth: 2.4, width: 86, height: 31
  });

  legend(g, {
    x: 3198, y: 1287, w: 304, h: 56, rowY: 1300, rowH: 27, swatchX: 3205, swatchW: 35, patchH: 12,
    textX: 3254, size: 16.4, alpha: 0.85,
    items: pivotNames.map((label, i) => ({ kind: 'patch', color: pivotColors[i], opacity: 0.16, label }))
  });
}
</script>
</body>
</html>
